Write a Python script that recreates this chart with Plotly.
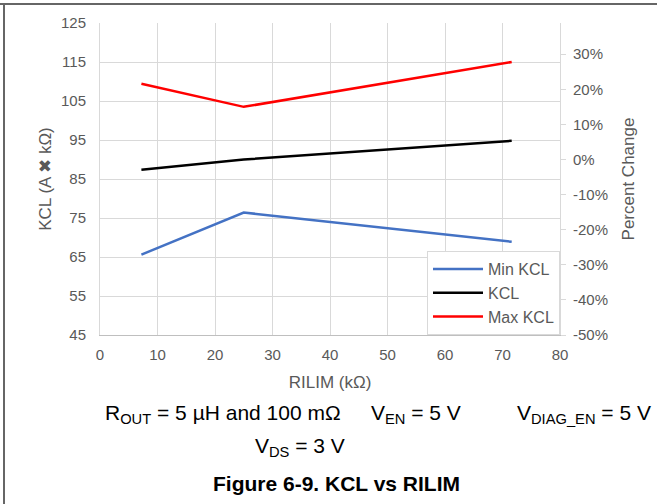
import plotly.graph_objects as go

# data
rilim = [7.2, 25, 71.6]
min_kcl = [65.6, 76.4, 68.9]
kcl = [87.4, 90.0, 94.8]
max_kcl = [109.4, 103.5, 115.0]
nominal = 90.0
pct = [(v - nominal) / nominal for v in kcl]
pct_ticks = [-0.5, -0.4, -0.3, -0.2, -0.1, 0.0, 0.1, 0.2, 0.3]
pct_labels = ['-50%', '-40%', '-30%', '-20%', '-10%', '0%', '10%', '20%', '30%']

tick_grey = '#595959'
grid = '#d9d9d9'
font = 'Liberation Sans, Arial, sans-serif'

fig = go.Figure()
fig.add_trace(go.Scatter(x=rilim, y=min_kcl, mode='lines', name='Min KCL',
                         line={'color': '#4472C4', 'width': 2.5}))
fig.add_trace(go.Scatter(x=rilim, y=kcl, mode='lines', name='KCL',
                         line={'color': 'black', 'width': 2.5}))
fig.add_trace(go.Scatter(x=rilim, y=max_kcl, mode='lines', name='Max KCL',
                         line={'color': '#FF0000', 'width': 2.5}))
# invisible trace to carry the secondary axis
fig.add_trace(go.Scatter(x=rilim, y=pct, yaxis='y2', mode='lines', opacity=0,
                         showlegend=False, hoverinfo='skip'))

xaxis = {'range': [0, 80], 'dtick': 10, 'showgrid': True, 'gridcolor': grid,
         'showline': True, 'linecolor': '#bfbfbf', 'zeroline': False,
         'automargin': False,
         'tickfont': {'size': 15, 'color': tick_grey}, 'ticklabelstandoff': 6,
         'title': {'text': 'RILIM (kΩ)', 'font': {'size': 17, 'color': tick_grey},
                   'standoff': 14}}

yaxis = {'range': [45, 125], 'dtick': 10, 'tick0': 45, 'showgrid': True,
         'gridcolor': grid, 'showline': True, 'linecolor': grid,
         'zeroline': False, 'automargin': False,
         'tickfont': {'size': 15, 'color': tick_grey}, 'ticklabelstandoff': 10,
         'title': {'text': 'KCL (A ✖ kΩ)', 'font': {'size': 17, 'color': tick_grey},
                   'standoff': 5}}

yaxis2 = {'overlaying': 'y', 'side': 'right',
          'range': [-0.5, (125 - nominal) / nominal],
          'tickmode': 'array', 'tickvals': pct_ticks, 'ticktext': pct_labels,
          'showgrid': False, 'zeroline': False, 'automargin': False,
          'showline': True, 'linecolor': grid,
          'ticks': 'outside', 'ticklen': 5, 'tickcolor': grid,
          'tickfont': {'size': 15, 'color': tick_grey}, 'ticklabelstandoff': 4,
          'title': {'text': 'Percent Change', 'font': {'size': 17, 'color': tick_grey},
                    'standoff': 15}}

fig.update_layout(width=657, height=504,
                  margin={'l': 100, 'r': 97, 't': 23, 'b': 169},
                  paper_bgcolor='white', plot_bgcolor='white',
                  font={'family': font},
                  xaxis=xaxis, yaxis=yaxis, yaxis2=yaxis2,
                  legend={'x': 1, 'y': 0, 'xanchor': 'right', 'yanchor': 'bottom',
                          'bgcolor': 'white', 'bordercolor': grid, 'borderwidth': 1,
                          'font': {'size': 16, 'color': tick_grey},
                          'tracegroupgap': 0, 'itemwidth': 50})

# caption below the chart
notes = [
    ('R<sub>OUT</sub> = 5 µH and 100 mΩ', 0.0072, -0.2548, False),
    ('V<sub>EN</sub> = 5 V', 0.585, -0.2548, False),
    ('V<sub>DIAG_EN</sub> = 5 V', 0.902, -0.2548, False),
    ('V<sub>DS</sub> = 3 V', 0.332, -0.36, False),
    ('<b>Figure 6-9. KCL vs RILIM</b>', 0.241, -0.476, True),
]
for text, x, y, bold in notes:
    fig.add_annotation(text=text, x=x, y=y, xref='paper', yref='paper',
                       xanchor='left', yanchor='middle', showarrow=False,
                       font={'size': 21, 'color': 'black'})

# outer frame (top and left edges)
fig.add_shape(type='line', xref='paper', yref='paper', x0=-0.22, x1=1.22,
              y0=331 / 312, y1=331 / 312, line={'color': '#666666', 'width': 2})
fig.add_shape(type='line', xref='paper', yref='paper', x0=-96 / 460, x1=-96 / 460,
              y0=-169 / 312, y1=331 / 312, line={'color': '#666666', 'width': 2})

# drop the default page margin so the figure sits at the window's corner
fig.write_html('out.html', config={'displayModeBar': False},
               post_script="document.body.style.margin='0';")
